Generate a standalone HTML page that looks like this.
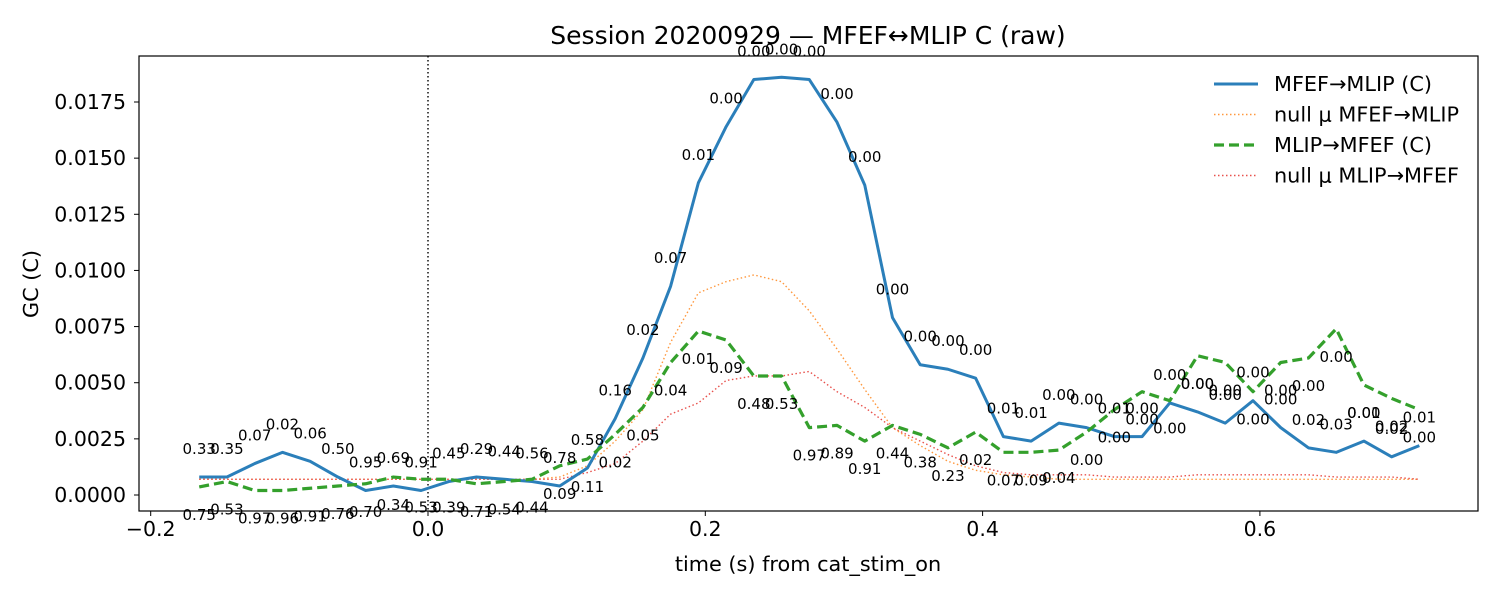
<!DOCTYPE html>
<html><head><meta charset="utf-8"><style>
body{margin:0;background:#fff;font-family:"Liberation Sans","DejaVu Sans",sans-serif}
svg text{font-family:"DejaVu Sans","Liberation Sans",sans-serif}
</style></head><body>
<svg id="c" width="1500" height="600" xmlns="http://www.w3.org/2000/svg"></svg>
<script>
const times = [];
for (let i = 0; i < 45; i++) times.push(-0.165 + 0.02 * i);
const fwd = [0.0008,0.0008,0.0014,0.0019,0.0015,0.0008,0.0002,0.0004,0.0002,0.0006,0.0008,0.0007,0.0006,0.0004,0.0012,0.0034,0.0061,0.0093,0.0139,0.0164,0.0185,0.0186,0.0185,0.0166,0.0138,0.0079,0.0058,0.0056,0.0052,0.0026,0.0024,0.0032,0.0030,0.0026,0.0026,0.0041,0.0037,0.0032,0.0042,0.0030,0.0021,0.0019,0.0024,0.0017,0.0022];
const nullFwd = [0.0007,0.0007,0.0007,0.0007,0.0007,0.0007,0.0007,0.0007,0.0007,0.0007,0.0007,0.0007,0.0007,0.0008,0.0013,0.0024,0.0038,0.0068,0.0090,0.0095,0.0098,0.0095,0.0082,0.0065,0.0047,0.0030,0.0022,0.0015,0.0011,0.0009,0.0008,0.0007,0.0007,0.0007,0.0007,0.0007,0.0007,0.0007,0.0007,0.0007,0.0007,0.0007,0.0007,0.0007,0.0007];
const rev = [0.00036,0.0006,0.0002,0.0002,0.0003,0.0004,0.0005,0.0008,0.0007,0.0007,0.0005,0.0006,0.0007,0.0013,0.0016,0.0027,0.0039,0.0059,0.0073,0.0069,0.0053,0.0053,0.0030,0.0031,0.0024,0.0031,0.0027,0.0021,0.0028,0.0019,0.0019,0.0020,0.0028,0.0038,0.0046,0.0042,0.0062,0.0059,0.0046,0.0059,0.0061,0.0074,0.0049,0.0043,0.0038];
const nullRev = [0.0007,0.0007,0.0007,0.0007,0.0007,0.0007,0.0007,0.0007,0.0007,0.0007,0.0007,0.0007,0.0007,0.0007,0.0010,0.0014,0.0024,0.0036,0.0041,0.0051,0.0053,0.0053,0.0055,0.0046,0.0039,0.0030,0.0024,0.0018,0.0013,0.0010,0.0009,0.0009,0.0009,0.0008,0.0008,0.0008,0.0009,0.0009,0.0009,0.0009,0.0009,0.0008,0.0008,0.0008,0.0007];
const fwdP = ["0.33","0.35","0.07","0.02","0.06","0.50","0.95","0.69","0.91","0.45","0.29","0.44","0.56","0.78","0.58","0.16","0.02","0.07","0.01","0.00","0.00","0.00","0.00","0.00","0.00","0.00","0.00","0.00","0.00","0.01","0.01","0.00","0.00","0.01","0.00","0.00","0.00","0.00","0.00","0.00","0.02","0.03","0.01","0.02","0.01"];
const revP = ["0.75","0.53","0.97","0.96","0.91","0.76","0.70","0.34","0.53","0.39","0.71","0.54","0.44","0.09","0.11","0.02","0.05","0.04","0.01","0.09","0.48","0.53","0.97","0.89","0.91","0.44","0.38","0.23","0.02","0.07","0.09","0.04","0.00","0.00","0.00","0.00","0.00","0.00","0.00","0.00","0.00","0.00","0.00","0.02","0.00"];
const xTicks = [-0.2,0.0,0.2,0.4,0.6];
const xTickLabels = ["−0.2","0.0","0.2","0.4","0.6"];
const yTicks = [0,0.0025,0.005,0.0075,0.01,0.0125,0.015,0.0175];
const yTickLabels = ["0.0000","0.0025","0.0050","0.0075","0.0100","0.0125","0.0150","0.0175"];

const L=139,R=1478,T=56,B=511;
const X = t => 428 + t*1386.5;
const Y = v => 495 - v*22457;
const svg = document.getElementById('c');
const NS='http://www.w3.org/2000/svg';
function mk(tag, attrs, parent){const e=document.createElementNS(NS,tag);for(const k in attrs)e.setAttribute(k,attrs[k]);(parent||svg).appendChild(e);return e;}

const frame = mk('rect',{x:L,y:T,width:R-L,height:B-T,fill:'none',stroke:'#000','stroke-width':1.2});



xTicks.forEach((t,i)=>{
  const tk=mk('line',{x1:X(t),x2:X(t),y1:B,y2:B+5,stroke:'#000'});
  
  
  const tx=mk('text',{x:X(t),y:B+25,'text-anchor':'middle','font-size':20.5});
  tx.textContent=xTickLabels[i];
  
  
});
yTicks.forEach((v,i)=>{
  const tk=mk('line',{x1:L-5,x2:L,y1:Y(v),y2:Y(v),stroke:'#000'});
  
  
  const tx=mk('text',{x:L-13,y:Y(v)+7,'text-anchor':'end','font-size':20.5});
  tx.textContent=yTickLabels[i];
  
  
});
const vl=mk('line',{x1:X(0),x2:X(0),y1:T,y2:B,stroke:'#000','stroke-width':1.4,'stroke-dasharray':'1.5,2.5'});



function series(vals,color,w,dash,name){
  const p=mk('polyline',{points:vals.map((v,i)=>X(times[i])+','+Y(v)).join(' '),fill:'none',stroke:color,'stroke-width':w,'stroke-dasharray':dash,'stroke-linejoin':'round'});
  
  
}
series(nullFwd,'#ff983e',1.4,'1.5,2.5','null-mfef-mlip-line');
series(nullRev,'#e8514c',1.4,'1.5,2.5','null-mlip-mfef-line');
series(fwd,'#2b7fba',3,'','mfef-mlip-line');
series(rev,'#34a02c',3.2,'10,5','mlip-mfef-line');

fwd.forEach((v,i)=>{
  const t=mk('text',{x:X(times[i]),y:Y(v)-23,'text-anchor':'middle','font-size':15});
  t.textContent=fwdP[i];
  
  
});
rev.forEach((v,i)=>{
  const t=mk('text',{x:X(times[i]),y:Y(v)+33,'text-anchor':'middle','font-size':15});
  t.textContent=revP[i];
  
  
});

const title=mk('text',{x:808,y:44,'text-anchor':'middle','font-size':25});
title.textContent='Session 20200929 — MFEF↔MLIP C (raw)';


const xl=mk('text',{x:808,y:571,'text-anchor':'middle','font-size':20.8});
xl.textContent='time (s) from cat_stim_on';


const yl=mk('text',{x:38,y:284,'text-anchor':'middle','font-size':20.8,transform:'rotate(-90 38 284)'});
yl.textContent='GC (C)';



const leg=[['MFEF→MLIP (C)','#2b7fba',3,''],['null μ MFEF→MLIP','#ff983e',1.4,'1.5,2.5'],['MLIP→MFEF (C)','#34a02c',3.2,'10,5'],['null μ MLIP→MFEF','#e8514c',1.4,'1.5,2.5']];
leg.forEach((d,i)=>{
  const y=84+i*30.5;
  const g=mk('g',{});
  
  
  mk('line',{x1:1214,x2:1258,y1:y,y2:y,stroke:d[1],'stroke-width':d[2],'stroke-dasharray':d[3]},g);
  const t=mk('text',{x:1274,y:y+7,'font-size':20.8},g);
  t.textContent=d[0];
});
</script>
</body></html>
